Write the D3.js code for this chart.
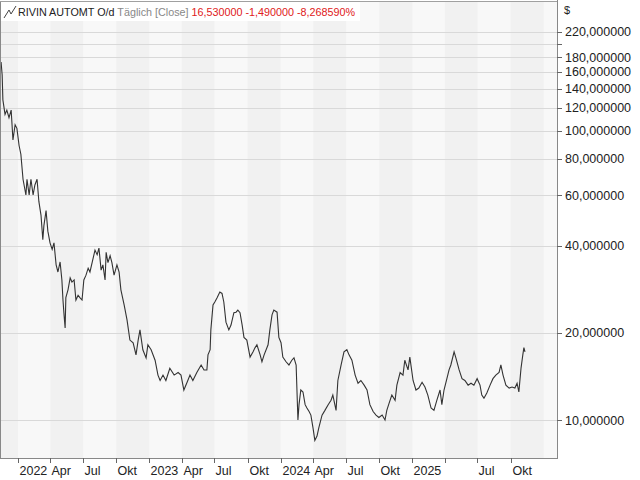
<!DOCTYPE html>
<html><head><meta charset="utf-8">
<script src="https://cdn.jsdelivr.net/npm/d3@7"></script>
<style>body{margin:0;background:#fff}svg{display:block}text{font-family:"Liberation Sans",Arial,sans-serif}</style>
</head><body>
<svg id="chart" width="640" height="480"></svg>
<script>
// days since 2021-11-12, closing price in $
const dayOffsets = [3,6,8,14,19,25,31,36,42,47,53,58,64,72,75,81,86,92,97,103,108,114,119,122,128,133,139,145,150,156,161,167,172,175,178,181,183,189,195,200,206,211,217,222,228,233,239,245,250,256,264,270,275,281,286,292,295,300,306,311,317,325,331,336,345,353,361,370,378,384,389,397,406,411,420,431,439,445,453,461,472,484,495,503,511,520,528,536,547,559,567,575,578,584,586,592,597,603,611,617,622,628,636,642,650,656,661,667,673,678,686,695,703,709,714,723,728,734,745,750,756,761,770,775,781,786,795,803,811,817,823,828,831,836,842,848,853,859,864,870,875,881,886,895,903,912,920,925,934,939,948,956,964,970,978,987,995,1003,1012,1020,1028,1037,1045,1053,1062,1070,1075,1081,1089,1098,1103,1112,1120,1125,1134,1139,1148,1156,1164,1173,1181,1189,1198,1206,1214,1223,1228,1234,1242,1248,1253,1262,1267,1276,1284,1292,1301,1309,1317,1326,1334,1339,1345,1353,1362,1370,1378,1387,1392,1398,1406,1415,1423,1431,1437,1442,1448,1453,1456,1459];
const closes = [173,156,128,114,118,111,118,93,105,102,89,83,68,60,68,60,68,60,65,68,57,51,42,47,53,45,41,38.9,41,34.4,32.5,35.2,30.5,26,23.1,20.8,26.5,28.2,31,30,30.5,26,27,26.5,26,30.5,31.7,33.5,32.5,35,38.7,37.3,39.3,33,34.4,30.5,38,35,37,35,31.7,34.4,32.5,28.2,25,22.2,18.9,18.5,16.8,18.9,20.5,17.5,16.4,18.2,17.5,16.1,14.3,13.7,14.3,13.7,15.1,14.3,14.6,14.3,12.7,13.5,14.3,13.7,14.6,15.5,14.9,14.9,16.8,17.5,20.5,25,25.6,26.4,27.7,27.4,25.6,21.8,20.5,21.3,23.5,23.6,24,23.5,21.3,19.3,18.9,16.5,17.2,17.8,18.2,16.8,15.9,16.8,18.2,20.5,23.1,24,23.6,19.3,18.5,16.5,15.9,15.5,16.1,16.4,15.5,10,11.3,12.7,12.5,11.3,11,10.7,10.4,9.38,8.5,8.8,9.4,10.4,10.8,11.3,11.7,12.2,10.8,13.7,15.5,17.2,17.5,16.8,16.1,14.3,13.4,13.7,13.2,12.7,11.3,10.7,10.4,10.2,10.4,10,10.8,11.4,12.2,11.7,13.2,14.6,14.3,16.1,14.9,16.5,13.7,12.7,12.9,13.5,13,12.2,11,10.8,11.7,12.7,11.3,12.7,13.9,14.9,15.5,17.2,16.4,14.9,13.9,13.7,13.2,13.4,13.2,13.9,13.2,12.2,11.9,12.4,13.2,13.9,14.3,14.6,15.5,14.3,13.2,12.9,13,12.9,13.4,12.5,15.1,16.8,17.8,17.2,16.53];
const yTicks = [10,20,40,60,80,100,120,140,160,180,200,220];
const yLabelled = [10,20,40,60,80,100,120,140,160,180,220];
const xTicks = [["2022-01-01","2022"],["2022-04-01","Apr"],["2022-07-01","Jul"],["2022-10-01","Okt"],["2023-01-01","2023"],["2023-04-01","Apr"],["2023-07-01","Jul"],["2023-10-01","Okt"],["2024-01-01","2024"],["2024-04-01","Apr"],["2024-07-01","Jul"],["2024-10-01","Okt"],["2025-01-01","2025"],["2025-04-01",""],["2025-07-01","Jul"],["2025-10-01","Okt"]];

const start = new Date(2021,10,12);
const parse = d3.timeParse("%Y-%m-%d");
const data = dayOffsets.map((d,i) => ({date: d3.timeDay.offset(start,d), v: closes[i]}));

const svg = d3.select("#chart");
const L = 0, R = 557, T = 2, B = 458;
const x = d3.scaleTime().domain([start, d3.timeDay.offset(start,1548)]).range([L,R]);
const y = d3.scaleLog().domain([7.39,279]).range([B,T]);

svg.append("rect").attr("x",L).attr("y",T).attr("width",R-L).attr("height",B-T).attr("fill","#f8f8f8");
// quarter bands
const quarters = d3.timeMonth.every(3).range(new Date(2021,9,1), new Date(2026,3,1));
quarters.forEach(q => {
  if (q.getMonth() === 3 || q.getMonth() === 9) {
    const x0 = Math.max(L, x(q)), x1 = Math.min(R, x(d3.timeMonth.offset(q,3)));
    if (x1 > x0) svg.append("rect").attr("x",x0).attr("y",T).attr("width",x1-x0).attr("height",B-T).attr("fill","#f1f1f1");
  }
});
svg.selectAll(".grid").data(yTicks).join("line").attr("class","grid")
  .attr("x1",L).attr("x2",R).attr("y1",d=>Math.round(y(d))+0.5).attr("y2",d=>Math.round(y(d))+0.5)
  .attr("stroke","#d9d9d9");

svg.append("path").datum(data)
  .attr("d", d3.line().x(d=>x(d.date)).y(d=>y(d.v)))
  .attr("fill","none").attr("stroke","#333").attr("stroke-width",1.1);

// frame
svg.append("line").attr("x1",0).attr("x2",R).attr("y1",1.5).attr("y2",1.5).attr("stroke","#a0a0a0");
svg.append("line").attr("x1",0.5).attr("x2",0.5).attr("y1",T).attr("y2",B).attr("stroke","#888");
svg.append("line").attr("x1",R+0.5).attr("x2",R+0.5).attr("y1",0).attr("y2",B+1).attr("stroke","#888");
svg.append("line").attr("x1",0).attr("x2",R+1).attr("y1",B+0.5).attr("y2",B+0.5).attr("stroke","#888");

// right axis
const ya = svg.append("g");
ya.selectAll("line").data(yTicks).join("line")
  .attr("x1",R).attr("x2",R+5).attr("y1",d=>Math.round(y(d))+0.5).attr("y2",d=>Math.round(y(d))+0.5).attr("stroke","#666");
ya.selectAll("text").data(yLabelled).join("text")
  .attr("x",R+8).attr("y",d=>y(d)+4.5).attr("font-size",12.5).attr("fill","#222")
  .text(d=>d3.format(".6f")(d).replace(".",","));
svg.append("text").attr("x",564).attr("y",14).attr("font-size",11).attr("fill","#222").text("$");

// bottom axis
const xa = svg.append("g");
xTicks.forEach(([d,lab]) => {
  const xp = Math.round(x(parse(d)))+0.5;
  xa.append("line").attr("x1",xp).attr("x2",xp).attr("y1",B).attr("y2",B+5).attr("stroke","#666");
  if (lab) xa.append("text").attr("x",xp+1).attr("y",475).attr("font-size",12.5).attr("fill","#222").text(lab);
});

// header
svg.append("rect").attr("x",1).attr("y",2).attr("width",359).attr("height",19).attr("fill","#fff");
svg.append("path").attr("d","M4,18 L9,10 L11,14 L16,6").attr("fill","none").attr("stroke","#444");
const hdr = svg.append("text").attr("x",18).attr("y",16).attr("font-size",11.5)
  .attr("textLength",337).attr("lengthAdjust","spacingAndGlyphs");
hdr.append("tspan").attr("fill","#222").text("RIVIN AUTOMT O/d ");
hdr.append("tspan").attr("fill","#888").text(" Täglich [Close] ");
hdr.append("tspan").attr("fill","#e02020").text(" 16,530000  -1,490000  -8,268590%");
</script>
</body></html>
